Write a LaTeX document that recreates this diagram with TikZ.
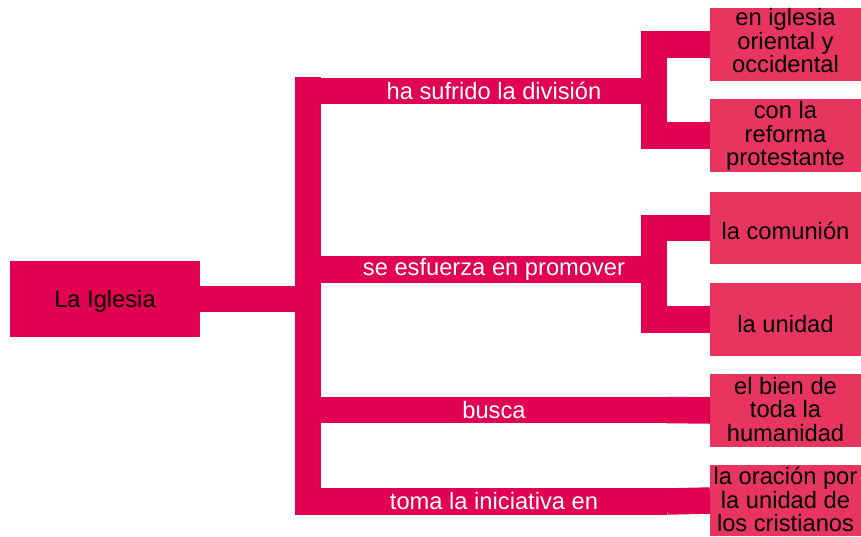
\documentclass[tikz,border=0pt]{standalone}
\usepackage{fontspec}
\setmainfont{Liberation Sans}
\usetikzlibrary{calc}
\definecolor{barcol}{RGB}{226,0,80}
\definecolor{leafcol}{RGB}{232,53,95}
\begin{document}
\begin{tikzpicture}[x=1pt,y=-1pt,
  every node/.style={inner sep=0pt, outer sep=0pt, font=\fontsize{23.7}{23.5}\selectfont},
  rootbox/.style={fill=barcol, minimum width=190pt, minimum height=76pt, text depth=0pt},
  trunkbox/.style={fill=barcol, minimum width=26pt, minimum height=438pt},
  barbox/.style={fill=barcol, text=white, minimum width=346pt, minimum height=26.5pt},
  leafbox/.style={fill=leafcol, minimum width=151pt, minimum height=73pt, align=center, text depth=0pt},
  conn/.style={draw=barcol, line width=26.5pt, line join=miter, line cap=butt}
]
\useasboundingbox (0,0) rectangle (861,536);
% root and trunk
\node[rootbox] (root) at (105,299) {La Iglesia};
\node[trunkbox] (trunk) at (308,296) {};
% branch bars
\node[barbox] (b1) at (494,91) {ha sufrido la división};
\node[barbox] (b2) at (494,269.5) {se esfuerza en promover};
\node[barbox] (b3) at (494,410) {busca};
\node[barbox] (b4) at (494,501.5) {toma la iniciativa en};
% leaves
\node[leafbox, text height=56.4pt] (l1) at (785.5,44.5) {en iglesia\\oriental y\\occidental};
\node[leafbox, text height=60pt] (l2) at (785.5,135.5) {con la\\reforma\\protestante};
\node[leafbox, minimum height=72pt, text height=22.6pt] (l3) at (785.5,228) {la comunión};
\node[leafbox, text height=26.4pt] (l4) at (785.5,319.5) {la unidad};
\node[leafbox, text height=61.6pt] (l5) at (785.5,410.5) {el bien de\\toda la\\humanidad};
\node[leafbox, minimum height=71pt, text height=62.4pt] (l6) at (785.5,500.5) {la oración por\\la unidad de\\los cristianos};
% connectors
\draw[conn] (root.east) -- (root.east -| trunk.west);
\draw[conn] (l1.west) -| ($(b1.east)+(-13.25,0)$) |- (l2.west);
\draw[conn] (l3.west) -| ($(b2.east)+(-13.25,0)$) |- (l4.west);
\draw[conn] (b3.east) -- (l5.west);
\draw[conn] (b4.east) -- (l6.west);
\end{tikzpicture}
\end{document}
